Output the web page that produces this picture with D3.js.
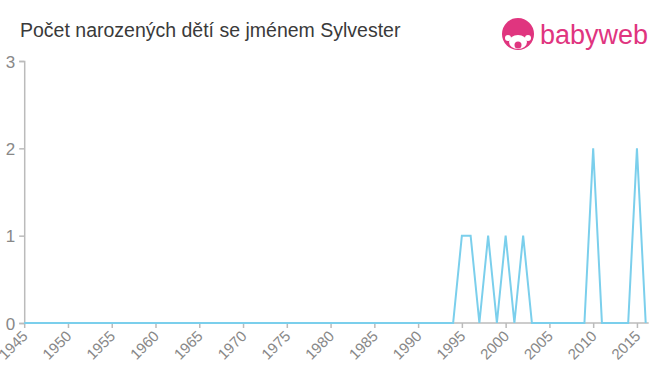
<!DOCTYPE html>
<html lang="en">
<head>
<meta charset="utf-8">
<title>Sylvester</title>
<style>
	body { margin: 0; background: #fff; }
	svg { display: block; font-family: "Liberation Sans", Arial, sans-serif; }
	.xaxis text { font-size: 15px; }
	.yaxis text { font-size: 17px; }
</style>
</head>
<body>
<svg></svg>
<script src="https://d3js.org/d3.v7.min.js"></script>
<script>
// data
var years = d3.range(1945, 2017);
var counts = years.map(function(y) { return 0; });
var nonZero = [
	[1995, 1], [1996, 1], [1998, 1], [2000, 1], [2002, 1],
	[2010, 2], [2015, 2]
];
nonZero.forEach(function(p) { counts[years.indexOf(p[0])] = p[1]; });

var xTicks = d3.range(1945, 2016, 5);
var yTicks = [0, 1, 2, 3];

var width = 660, height = 375;
var svg = d3.select("svg").attr("width", width).attr("height", height);

var x = d3.scaleLinear().domain([1945, 2016]).range([24.2, 645.7]);
var y = d3.scaleLinear().domain([0, 3]).range([323, 61]);

// title
svg.append("text")
	.attr("x", 20).attr("y", 37)
	.style("font-size", "19.5px")
	.attr("fill", "#3a3a3a")
	.text("Počet narozených dětí se jménem Sylvester");

// logo
var logo = svg.append("g").attr("transform", "translate(518,34)");
logo.append("circle").attr("r", 16).attr("fill", "#e0357f");
logo.append("ellipse").attr("cy", 8).attr("rx", 9).attr("ry", 7).attr("fill", "#fff");
logo.append("circle").attr("cx", -10).attr("cy", 4).attr("r", 3).attr("fill", "#fff");
logo.append("circle").attr("cx", 10).attr("cy", 4).attr("r", 3).attr("fill", "#fff");
logo.append("circle").attr("cy", 11).attr("r", 3.5).attr("fill", "#e0357f");
svg.append("text")
	.attr("x", 540).attr("y", 44)
	.style("font-size", "27px")
	.attr("fill", "#e0357f")
	.text("babyweb");

// y axis
var yAxis = svg.append("g")
	.attr("class", "yaxis")
	.attr("transform", "translate(24.2,0)")
	.call(d3.axisLeft(y).tickValues(yTicks).tickSize(5).tickFormat(d3.format("d")))
	.attr("font-size", null)
	.attr("font-family", null);
yAxis.select(".domain").attr("stroke", "#bbb").attr("stroke-width", 1.5);
yAxis.selectAll(".tick line").attr("stroke", "#bbb").attr("stroke-width", 1.5);
yAxis.selectAll(".tick text")
	.attr("fill", "#888")
	.attr("x", -9).attr("dy", "0.36em");

// x axis
var xAxis = svg.append("g")
	.attr("class", "xaxis")
	.attr("transform", "translate(0,323)")
	.call(d3.axisBottom(x).tickValues(xTicks).tickSize(5).tickFormat(d3.format("d")))
	.attr("font-size", null)
	.attr("font-family", null);
xAxis.select(".domain").attr("stroke", "#bbb").attr("stroke-width", 1.5)
	.attr("d", "M" + x(1945) + ",0H" + (x(2016) + 3));
xAxis.selectAll(".tick line").attr("stroke", "#bbb").attr("stroke-width", 1.5);
xAxis.selectAll(".tick text")
	.attr("fill", "#888")
	.attr("text-anchor", "end")
	.attr("y", 0).attr("dy", 0)
	.attr("transform", "translate(4,14) rotate(-45)");

// line
var line = d3.line()
	.x(function(d, i) { return x(years[i]); })
	.y(function(d) { return y(d); });

svg.append("path")
	.datum(counts)
	.attr("fill", "none")
	.attr("stroke", "#7bcfec")
	.attr("stroke-width", 2)
	.attr("d", line);
</script>
</body>
</html>
